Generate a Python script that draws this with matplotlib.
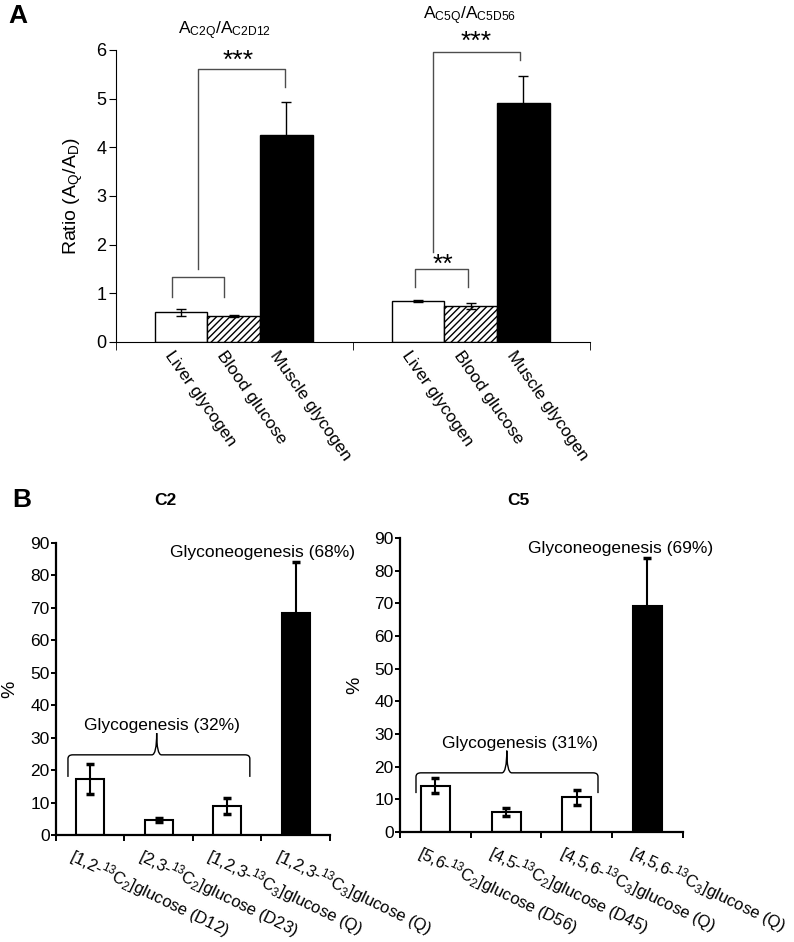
import numpy as np
import matplotlib.pyplot as plt
import matplotlib.transforms as mtransforms
from matplotlib.path import Path
from matplotlib.patches import PathPatch

plt.rcParams['font.family'] = ['Liberation Sans', 'DejaVu Sans']
plt.rcParams['mathtext.default'] = 'regular'
plt.rcParams['hatch.linewidth'] = 1.0

# Panel A: isotopomer ratios (mean, error)
a_labels = ["Liver glycogen", "Blood glucose", "Muscle glycogen"]
a_c2_means = [0.61, 0.53, 4.25]
a_c2_errs = [0.07, 0.02, 0.68]
a_c5_means = [0.84, 0.74, 4.90]
a_c5_errs = [0.02, 0.07, 0.56]

# Panel B: contribution (%)
b_c2_labels = [r"[1,2-$^{13}$C$_2$]glucose (D12)",
               r"[2,3-$^{13}$C$_2$]glucose (D23)",
               r"[1,2,3-$^{13}$C$_3$]glucose (Q)",
               r"[1,2,3-$^{13}$C$_3$]glucose (Q)"]
b_c2_means = [17.2, 4.6, 9.0, 68.4]
b_c2_errs = [4.6, 0.6, 2.4, 15.8]
b_c5_labels = [r"[5,6-$^{13}$C$_2$]glucose (D56)",
               r"[4,5-$^{13}$C$_2$]glucose (D45)",
               r"[4,5,6-$^{13}$C$_3$]glucose (Q)",
               r"[4,5,6-$^{13}$C$_3$]glucose (Q)"]
b_c5_means = [14.2, 6.2, 10.6, 69.2]
b_c5_errs = [2.3, 1.2, 2.4, 14.7]

fig = plt.figure(figsize=(7.94, 9.42), dpi=100)


def shift_labels(ax, labels, dx_px):
    off = mtransforms.ScaledTranslation(dx_px / 100, 0, fig.dpi_scale_trans)
    for lab in labels:
        lab.set_transform(lab.get_transform() + off)


def bracket(ax, x0, x1, y, y0, y1, color="0.3"):
    ax.plot([x0, x0, x1, x1], [y0, y, y, y1], color=color, lw=1.0,
            clip_on=False)


def brace(ax, x0, x1, xm, y, ytop, yend, rx=0.07, ry=1.2):
    verts = [(x0, yend), (x0, y - ry), (x0, y), (x0 + rx, y),
             (xm - rx, y), (xm, y), (xm, ytop),
             (xm, y), (xm + rx, y),
             (x1 - rx, y), (x1, y), (x1, y - ry), (x1, yend)]
    codes = [Path.MOVETO, Path.LINETO, Path.CURVE3, Path.CURVE3,
             Path.LINETO, Path.CURVE3, Path.CURVE3,
             Path.CURVE3, Path.CURVE3,
             Path.LINETO, Path.CURVE3, Path.CURVE3, Path.LINETO]
    ax.add_patch(PathPatch(Path(verts, codes), fill=False, lw=1.0,
                           edgecolor="black", clip_on=False))


# ---------------- Panel A ----------------
axA = fig.add_axes([0.146, 0.637, 0.597, 0.310])
w = 0.222
offsets = [-w, 0, w]
faces = ["white", "white", "black"]
hatches = [None, "/////", None]
for gc, means, errs in [(0.497, a_c2_means, a_c2_errs),
                        (1.497, a_c5_means, a_c5_errs)]:
    for i in range(3):
        axA.bar(gc + offsets[i], means[i], width=w, color=faces[i],
                edgecolor="black", hatch=hatches[i], linewidth=1.0)
        axA.errorbar(gc + offsets[i], means[i], yerr=errs[i], fmt="none",
                     ecolor="black", elinewidth=1.0, capsize=3.5,
                     capthick=1.0)

axA.set_xlim(0, 2)
axA.set_ylim(0, 6)
axA.set_yticks(range(7))
for s in ["top", "right"]:
    axA.spines[s].set_visible(False)
axA.tick_params(axis="y", direction="out", length=5, pad=2, labelsize=13)
centers = [g + o for g in (0.497, 1.497) for o in offsets]
axA.set_xticks(centers, a_labels * 2)
axA.set_xticks([0, 1, 2], minor=True)
axA.tick_params(axis="x", which="major", length=0, pad=5, labelsize=12.5)
axA.tick_params(axis="x", which="minor", length=6, direction="out")
for lab in axA.get_xticklabels():
    lab.set_rotation(-55)
    lab.set_ha("left")
    lab.set_va("top")
    lab.set_rotation_mode("anchor")
shift_labels(axA, axA.get_xticklabels(), -7)
axA.set_ylabel(r"Ratio (A$_Q$/A$_D$)", fontsize=14, labelpad=8)

# significance brackets
star_kw = dict(ha="center", va="center", fontsize=19, clip_on=False)
bracket(axA, 0.236, 0.456, 1.34, 0.93, 0.93)
bracket(axA, 0.346, 0.713, 5.60, 1.50, 5.24)
axA.text(0.515, 5.78, "***", **star_kw)
bracket(axA, 1.262, 1.485, 1.50, 1.13, 1.13)
axA.text(1.38, 1.58, "**", **star_kw)
bracket(axA, 1.338, 1.705, 5.96, 1.85, 5.79)
axA.text(1.52, 6.16, "***", **star_kw)
axA.text(0.456, 6.39, r"A$_{C2Q}$/A$_{C2D12}$", ha="center", va="center",
         fontsize=12.5, clip_on=False)
axA.text(1.494, 6.71, r"A$_{C5Q}$/A$_{C5D56}$", ha="center", va="center",
         fontsize=12.5, clip_on=False)

fig.text(8 / 794, 1 - 4 / 942, "A", fontsize=19, fontweight="bold",
         ha="left", va="top")
fig.text(12 / 794, 1 - 488 / 942, "B", fontsize=19, fontweight="bold",
         ha="left", va="top")

# ---------------- Panel B ----------------
def panel_b(rect, labels, means, errs, title, title_xy, ylabelpad, dx):
    ax = fig.add_axes(rect)
    xs = np.arange(4) + 0.5
    colors = ["white", "white", "white", "black"]
    ax.bar(xs, means, width=0.41, color=colors, edgecolor="black",
           linewidth=1.5)
    ax.errorbar(xs, means, yerr=errs, fmt="none", ecolor="black",
                elinewidth=1.5, capsize=3, capthick=2.5)
    ax.set_xlim(0, 4)
    ax.set_ylim(0, 90)
    ax.set_yticks(range(0, 91, 10))
    for s in ["top", "right"]:
        ax.spines[s].set_visible(False)
    ax.spines["left"].set_linewidth(1.6)
    ax.spines["bottom"].set_linewidth(1.6)
    ax.tick_params(axis="y", direction="out", length=3.5, width=1.4, pad=1,
                   labelsize=12.5)
    ax.set_xticks(xs, labels)
    ax.set_xticks(np.arange(5), minor=True)
    ax.tick_params(axis="x", which="major", length=0, pad=7, labelsize=12)
    ax.tick_params(axis="x", which="minor", length=4, width=1.4,
                   direction="out")
    for lab in ax.get_xticklabels():
        lab.set_rotation(-26)
        lab.set_ha("left")
        lab.set_va("top")
        lab.set_rotation_mode("anchor")
    shift_labels(ax, ax.get_xticklabels(), dx)
    ax.set_ylabel("%", fontsize=14, labelpad=ylabelpad)
    ax.text(title_xy[0], title_xy[1], title, ha="center", va="center",
            fontsize=12.5, fontweight="bold", clip_on=False)
    return ax


axB1 = panel_b([0.0705, 0.1136, 0.3451, 0.3100], b_c2_labels, b_c2_means,
               b_c2_errs, "C2", (1.6, 103), 9, -14)
brace(axB1, 0.175, 2.83, 1.47, 24.7, 31.4, 17.9)
axB1.text(1.55, 33.6, "Glycogenesis (32%)", ha="center", va="center",
          fontsize=12.5)
axB1.text(3.02, 87, "Glyconeogenesis (68%)", ha="center", va="center",
          fontsize=12.5, clip_on=False)

axB2 = panel_b([0.5038, 0.1168, 0.3562, 0.3121], b_c5_labels, b_c5_means,
               b_c5_errs, "C5", (1.68, 101.5), 8, -11)
brace(axB2, 0.226, 2.80, 1.51, 18.1, 24.9, 11.9)
axB2.text(1.69, 27.2, "Glycogenesis (31%)", ha="center", va="center",
          fontsize=12.5)
axB2.text(3.12, 86.9, "Glyconeogenesis (69%)", ha="center", va="center",
          fontsize=12.5, clip_on=False)

fig.savefig("out.png", dpi=100)
